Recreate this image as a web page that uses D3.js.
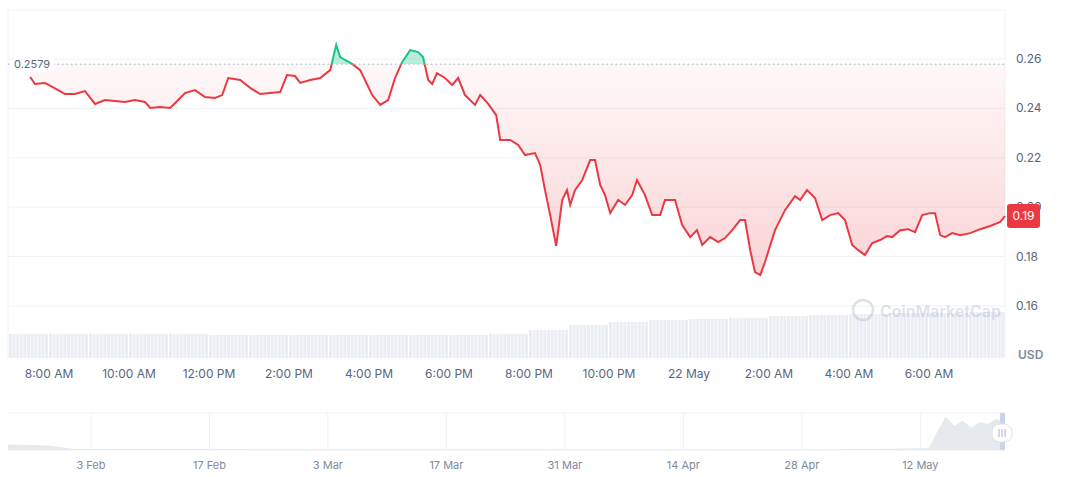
<!DOCTYPE html>
<html><head><meta charset="utf-8">
<script src="https://cdn.jsdelivr.net/npm/d3@7"></script>
<style>body{margin:0;background:#fff;font-family:Inter,"Noto Sans",sans-serif}</style>
</head><body><svg id="c" width="1072" height="477"></svg>
<script>
const hours=[7.53,7.65,7.9,8.08,8.23,8.4,8.65,8.9,9.15,9.4,9.65,9.9,10.15,10.4,10.53,10.78,11.03,11.23,11.4,11.65,11.9,12.15,12.33,12.48,12.78,13.03,13.28,13.53,13.78,13.95,14.15,14.28,14.53,14.78,15.03,15.18,15.28,15.4,15.58,15.78,15.9,16.08,16.28,16.48,16.65,16.83,17.03,17.23,17.35,17.48,17.58,17.7,17.9,18.08,18.23,18.4,18.65,18.78,18.98,19.18,19.28,19.53,19.73,19.9,20.15,20.28,20.4,20.53,20.68,20.83,20.95,21.03,21.15,21.33,21.53,21.65,21.78,21.9,22.03,22.23,22.4,22.58,22.7,22.9,23.08,23.28,23.4,23.65,23.83,24.03,24.2,24.33,24.53,24.73,24.9,25.08,25.28,25.4,25.53,25.65,25.78,25.9,26.15,26.4,26.65,26.78,26.95,27.15,27.33,27.53,27.73,27.9,28.08,28.23,28.4,28.58,28.78,28.95,29.08,29.28,29.48,29.65,29.83,30.03,30.15,30.28,30.4,30.58,30.78,31.03,31.28,31.53,31.78,31.9];
const prices=[0.2527,0.2499,0.2503,0.2487,0.2474,0.2458,0.2458,0.2470,0.2418,0.2434,0.2430,0.2426,0.2434,0.2426,0.2402,0.2406,0.2402,0.2434,0.2462,0.2474,0.2446,0.2442,0.2454,0.2523,0.2515,0.2483,0.2458,0.2462,0.2466,0.2535,0.2531,0.2503,0.2515,0.2523,0.2555,0.2657,0.2608,0.2596,0.2580,0.2555,0.2515,0.2454,0.2414,0.2434,0.2523,0.2588,0.2636,0.2628,0.2608,0.2515,0.2499,0.2543,0.2523,0.2495,0.2523,0.2454,0.2414,0.2454,0.2418,0.2373,0.2272,0.2272,0.2252,0.2211,0.2219,0.2171,0.2069,0.1968,0.1843,0.2029,0.2069,0.2009,0.2069,0.2110,0.2191,0.2191,0.2090,0.2049,0.1976,0.2029,0.2009,0.2049,0.2110,0.2049,0.1968,0.1968,0.2029,0.2029,0.1928,0.1879,0.1907,0.1847,0.1879,0.1859,0.1875,0.1907,0.1948,0.1948,0.1826,0.1737,0.1725,0.1778,0.1907,0.1988,0.2045,0.2029,0.2069,0.2037,0.1948,0.1968,0.1976,0.1948,0.1847,0.1826,0.1806,0.1855,0.1867,0.1883,0.1879,0.1907,0.1911,0.1899,0.1968,0.1976,0.1976,0.1887,0.1879,0.1895,0.1887,0.1895,0.1911,0.1924,0.1940,0.1964];
const volHours=[7,8,9,10,11,12,13,14,15,16,17,18,19,20,21,22,23,24,25,26,27,28,29,30,31];
const volumes=[24,24,24,24,24,23,23,23,23,23,23,23,24,28,33,36,38,39,40,42,43,44,45,45,46];
const navDates=["3 Feb","17 Feb","3 Mar","17 Mar","31 Mar","14 Apr","28 Apr","12 May"];
const navDays=[14,28,42,56,70,84,98,112];
const navVol=[[4.2,3],[9,2.5],[12,0.5],[100,0.3],[113,1],[114,10],[115,18],[116,13],[117,16],[118,12],[119,15],[120,14],[121,17],[122,14]];
const yTicks=[0.16,0.18,0.20,0.22,0.24,0.26];
const timeTicks=[[8,"8:00 AM"],[10,"10:00 AM"],[12,"12:00 PM"],[14,"2:00 PM"],[16,"4:00 PM"],[18,"6:00 PM"],[20,"8:00 PM"],[22,"10:00 PM"],[24,"22 May"],[26,"2:00 AM"],[28,"4:00 AM"],[30,"6:00 AM"]];
const baseline=0.2579, lastLabel="0.19";

const svg=d3.select("#c");
const x=d3.scaleLinear().domain([6.975,31.9]).range([8,1005]);
const y=d3.scaleLinear().domain([0.16,0.26]).range([306,59]);
const data=hours.map((h,i)=>({h,p:prices[i]}));
const defs=svg.append("defs");
const g=defs.append("linearGradient").attr("id","rg").attr("x1",0).attr("x2",0).attr("y1",0).attr("y2",1);
g.append("stop").attr("offset","0%").attr("stop-color","#ea3943").attr("stop-opacity",0.02);
g.append("stop").attr("offset","100%").attr("stop-color","#ea3943").attr("stop-opacity",0.22);
defs.append("clipPath").attr("id","below").append("rect").attr("x",0).attr("y",y(baseline)).attr("width",1072).attr("height",400);
defs.append("clipPath").attr("id","above").append("rect").attr("x",0).attr("y",0).attr("width",1072).attr("height",y(baseline));

svg.append("line").attr("x1",8).attr("x2",1005).attr("y1",10).attr("y2",10).attr("stroke","#eff2f5");
svg.append("line").attr("x1",1005).attr("x2",1005).attr("y1",10).attr("y2",358).attr("stroke","#eff2f5");
svg.append("line").attr("x1",8).attr("x2",8).attr("y1",10).attr("y2",358).attr("stroke","#eff2f5");
yTicks.forEach(t=>{
  svg.append("line").attr("x1",8).attr("x2",1005).attr("y1",y(t)).attr("y2",y(t)).attr("stroke","#eff2f5");
  svg.append("text").attr("x",1016).attr("y",y(t)+4).attr("font-size",12).attr("fill","#58667e").text(t.toFixed(2));
});
const vy=d3.scaleLinear().domain([0,100]).range([358,258]);
for(let i=0;i<volHours.length;i++){
  const h0=Math.max(volHours[i],6.975), h1=Math.min(volHours[i]+1,31.9);
  for(let h=h0;h<h1-0.05;h+=0.09){
    svg.append("rect").attr("x",x(h)).attr("width",3).attr("y",vy(volumes[i])).attr("height",358-vy(volumes[i])).attr("fill","#eaeef3");
  }
}
const wm=svg.append("g").attr("opacity",0.35);
wm.append("circle").attr("cx",863).attr("cy",310).attr("r",10).attr("fill","none").attr("stroke","#a6b0c3").attr("stroke-width",2.5);
wm.append("text").attr("x",880).attr("y",317).attr("font-size",16).attr("font-weight",600).attr("fill","#a6b0c3").text("CoinMarketCap");
const area=d3.area().x(d=>x(d.h)).y0(y(baseline)).y1(d=>y(d.p));
svg.append("path").datum(data).attr("d",area).attr("fill","url(#rg)").attr("clip-path","url(#below)");
svg.append("path").datum(data).attr("d",area).attr("fill","#16c784").attr("opacity",0.3).attr("clip-path","url(#above)");
svg.append("line").attr("x1",8).attr("x2",1005).attr("y1",y(baseline)).attr("y2",y(baseline)).attr("stroke","#a6b0c3").attr("stroke-dasharray","1.5,3");
const line=d3.line().x(d=>x(d.h)).y(d=>y(d.p));
svg.append("path").datum(data).attr("d",line).attr("fill","none").attr("stroke","#ea3943").attr("stroke-width",2).attr("clip-path","url(#below)");
svg.append("path").datum(data).attr("d",line).attr("fill","none").attr("stroke","#16c784").attr("stroke-width",2).attr("clip-path","url(#above)");
svg.append("rect").attr("x",12).attr("y",y(baseline)-8).attr("width",42).attr("height",16).attr("fill","#fff");
svg.append("text").attr("x",14).attr("y",y(baseline)+4).attr("font-size",11).attr("fill","#58667e").text(baseline.toString());
const lastP=prices[prices.length-1];
svg.append("rect").attr("x",1007).attr("y",y(lastP)-12).attr("width",33).attr("height",24).attr("rx",3).attr("fill","#ea3943");
svg.append("text").attr("x",1023.5).attr("y",y(lastP)+4).attr("text-anchor","middle").attr("font-size",12).attr("fill","#fff").text(lastLabel);
svg.append("text").attr("x",1018).attr("y",359).attr("font-size",12).attr("font-weight",600).attr("fill","#808a9d").text("USD");
timeTicks.forEach(([h,l])=>svg.append("text").attr("x",x(h)).attr("y",378).attr("text-anchor","middle").attr("font-size",12).attr("fill","#58667e").text(l));
const nx=d3.scaleLinear().domain([4.2,122]).range([8,1005]);
const ny=d3.scaleLinear().domain([0,20]).range([450,413]);
svg.append("line").attr("x1",8).attr("x2",1005).attr("y1",413).attr("y2",413).attr("stroke","#eff2f5");
svg.append("line").attr("x1",8).attr("x2",1005).attr("y1",450).attr("y2",450).attr("stroke","#eff2f5");
navDays.forEach((d,i)=>{
  svg.append("line").attr("x1",nx(d)).attr("x2",nx(d)).attr("y1",413).attr("y2",450).attr("stroke","#eff2f5");
  svg.append("text").attr("x",nx(d)).attr("y",469).attr("text-anchor","middle").attr("font-size",11).attr("fill","#808a9d").text(navDates[i]);
});
svg.append("path").datum(navVol).attr("d",d3.area().x(d=>nx(d[0])).y0(450).y1(d=>ny(d[1]))).attr("fill","#e6e9ee");
svg.append("rect").attr("x",1000).attr("y",413).attr("width",5).attr("height",37).attr("fill","#c9d3ee");
svg.append("rect").attr("x",992).attr("y",424).attr("width",20).attr("height",18).attr("rx",8).attr("fill","#fff").attr("stroke","#dfe3ea");
[999,1002,1005].forEach(v=>svg.append("line").attr("x1",v).attr("x2",v).attr("y1",429).attr("y2",437).attr("stroke","#a6b0c3"));
</script></body></html>
